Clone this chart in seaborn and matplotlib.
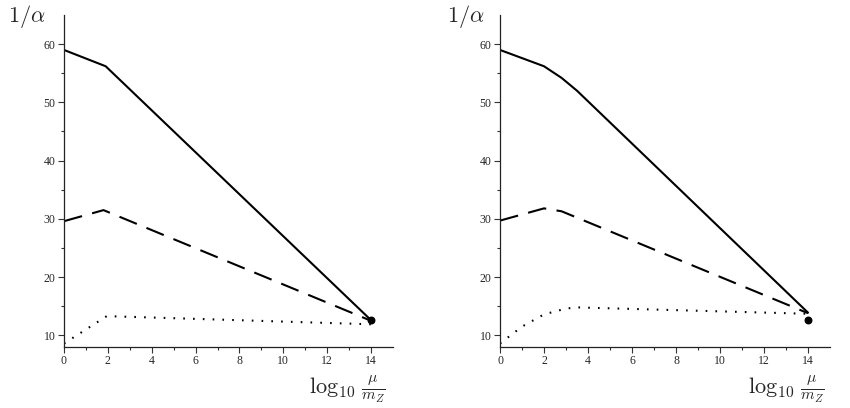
import matplotlib.pyplot as plt
import matplotlib.ticker as mticker
import seaborn as sns
import pandas as pd

# left panel
left_solid_x = [0, 1.9, 14]
left_solid_y = [59.0, 56.2, 12.6]
left_dash_x = [0, 1.8, 14]
left_dash_y = [29.6, 31.5, 12.5]
left_dot_x = [0, 1.95, 14]
left_dot_y = [8.6, 13.3, 11.9]

# right panel
right_solid_x = [0, 2.0, 2.8, 3.5, 14]
right_solid_y = [59.0, 56.2, 54.2, 52.0, 13.9]
right_dash_x = [0, 2.0, 2.8, 14]
right_dash_y = [29.7, 31.8, 31.3, 13.8]
right_dot_x = [0, 1.0, 2.0, 3.0, 3.5, 14]
right_dot_y = [8.6, 11.5, 13.6, 14.6, 14.8, 13.7]

# measured point at m_Z scale (marker)
point_x = [14, 14]
point_y = [12.6, 12.6]

sns.set_theme(style="ticks")
plt.rcParams['font.family'] = ['Liberation Serif', 'DejaVu Serif']
plt.rcParams['mathtext.fontset'] = 'cm'


def make_df(sx, sy, dx, dy, ox, oy):
    rows = []
    for name, xs, ys in [('solid', sx, sy), ('dash', dx, dy), ('dot', ox, oy)]:
        for x, y in zip(xs, ys):
            rows.append({'x': x, 'y': y, 'curve': name})
    return pd.DataFrame(rows)


panels = [
    make_df(left_solid_x, left_solid_y, left_dash_x, left_dash_y, left_dot_x, left_dot_y),
    make_df(right_solid_x, right_solid_y, right_dash_x, right_dash_y, right_dot_x, right_dot_y),
]

fig = plt.figure(figsize=(8.5, 4.08), dpi=100)
ax_l = fig.add_axes([64 / 850, 61 / 408, 329 / 850, 332 / 408])
ax_r = fig.add_axes([500 / 850, 61 / 408, 330 / 850, 332 / 408])

dash_styles = {'solid': '', 'dash': (9, 5), 'dot': (0.8, 3.9)}

for ax, dt, px, py, lx in zip([ax_l, ax_r], panels, point_x, point_y, [8, 447]):
    sns.lineplot(data=dt, x='x', y='y', style='curve', dashes=dash_styles,
                 color='black', linewidth=1.5, legend=False, sort=False,
                 estimator=None, ax=ax)
    ax.scatter([px], [py], s=22, color='black', zorder=5)

    ax.set_xlim(0, 15)
    ax.set_ylim(8, 65)
    ax.xaxis.set_major_locator(mticker.FixedLocator([0, 2, 4, 6, 8, 10, 12, 14]))
    ax.xaxis.set_minor_locator(mticker.FixedLocator([1, 3, 5, 7, 9, 11, 13]))
    ax.yaxis.set_major_locator(mticker.FixedLocator([10, 20, 30, 40, 50, 60]))
    ax.yaxis.set_minor_locator(mticker.FixedLocator([15, 25, 35, 45, 55]))
    ax.tick_params(which='major', length=4, width=0.8, labelsize=8.5, pad=2, color='#333333')
    ax.tick_params(which='minor', length=2, width=0.8, color='#333333')
    for s in ['top', 'right']:
        ax.spines[s].set_visible(False)
    for s in ['left', 'bottom']:
        ax.spines[s].set_linewidth(0.9)
        ax.spines[s].set_color('#222222')
    ax.set_xlabel('')
    ax.set_ylabel('')

    fig.text(lx / 850, 1 - 17 / 408, r'$1/\alpha$', fontsize=16, ha='left', va='center')
    fig.text((lx + 378) / 850, 19 / 408, r'$\log_{10}\,\frac{\mu}{m_Z}$', fontsize=16,
             ha='right', va='center')

plt.savefig('out.png', dpi=100)
